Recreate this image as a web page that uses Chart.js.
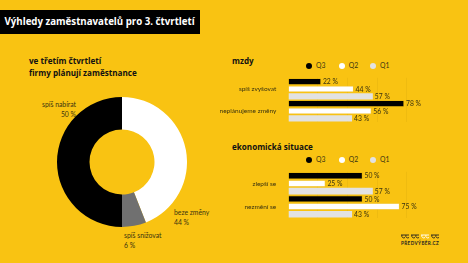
<!DOCTYPE html>
<html>
<head>
<meta charset="utf-8">
<script src="https://cdn.jsdelivr.net/npm/chart.js@4.4.1/dist/chart.umd.min.js"></script>
<style>
  html,body{margin:0;padding:0;}
  body{width:468px;height:263px;background:#F9C312;position:relative;overflow:hidden;font-family:"Lato","Open Sans",sans-serif;color:#2a2a2a;}
  .abs{position:absolute;white-space:nowrap;}
  #titlebox{left:0;top:10px;width:200px;height:24px;background:#000;}
  #title{left:4.5px;top:10px;height:24px;line-height:24px;color:#fff;font-weight:700;font-size:9.7px;font-family:"Open Sans",sans-serif;}
  .h{font-weight:700;font-size:8.1px;color:#111;font-family:"Open Sans",sans-serif;}
  .lbl{font-size:6.8px;color:#3a3310;line-height:10px;}
  .leg{font-size:6.8px;color:#3a3310;line-height:8px;}
  .dot{display:inline-block;width:6px;height:6px;border-radius:50%;vertical-align:-1px;margin-right:4px;}
  canvas{position:absolute;}
</style>
</head>
<body>
<div id="titlebox" class="abs"></div>
<div id="title" class="abs">Výhledy zaměstnavatelů pro 3. čtvrtletí</div>

<div class="abs h" style="left:29px;top:55.3px;">ve třetím čtvrtletí</div>
<div class="abs h" style="left:29px;top:66.8px;">firmy plánují zaměstnance</div>

<div class="abs lbl" style="right:392px;top:99px;text-align:right;">spíš nabírat<br>50 %</div>
<div class="abs lbl" style="left:174px;top:207px;">beze změny<br>44 %</div>
<div class="abs lbl" style="left:124px;top:230px;">spíš snižovat<br>6 %</div>

<div class="abs h" style="left:232px;top:55.3px;">mzdy</div>
<div class="abs h" style="left:232px;top:140.8px;">ekonomická situace</div>

<div class="abs leg" style="left:306px;top:60.5px;"><span class="dot" style="background:#000"></span>Q3</div>
<div class="abs leg" style="left:338.7px;top:60.5px;"><span class="dot" style="background:#fff"></span>Q2</div>
<div class="abs leg" style="left:370px;top:60.5px;"><span class="dot" style="background:#e2e2e2"></span>Q1</div>

<div class="abs leg" style="left:306px;top:155px;"><span class="dot" style="background:#000"></span>Q3</div>
<div class="abs leg" style="left:338.7px;top:155px;"><span class="dot" style="background:#fff"></span>Q2</div>
<div class="abs leg" style="left:370px;top:155px;"><span class="dot" style="background:#e2e2e2"></span>Q1</div>

<svg class="abs" style="left:400px;top:233px;" width="40" height="6" viewBox="0 0 40 6">
  <g fill="none" stroke="#222" stroke-width="0.9">
    <path d="M1 2 h8 M2 2 a2 2 0 0 0 3 2.5 M6 2 a2 2 0 0 0 3 2.5"/>
    <path d="M11 2 h8 M12 2 a2 2 0 0 0 3 2.5 M16 2 a2 2 0 0 0 3 2.5"/>
    <path d="M21 2 h8 M22 2 a2 2 0 0 0 3 2.5 M26 2 a2 2 0 0 0 3 2.5" stroke="#fff"/>
    <path d="M31 2 h8 M32 2 a2 2 0 0 0 3 2.5 M36 2 a2 2 0 0 0 3 2.5"/>
  </g>
</svg>
<div class="abs" style="left:401px;top:240px;font-size:4.6px;font-weight:700;letter-spacing:0.4px;color:#222;">PŘEDVÝBĚR.CZ</div>

<canvas id="donut" style="left:57.3px;top:97px;" width="130" height="130"></canvas>
<canvas id="bar1" style="left:220px;top:70px;" width="248" height="60"></canvas>
<canvas id="bar2" style="left:220px;top:164px;" width="248" height="62"></canvas>

<script>
// ---- data ----
const donutLabels = ["beze změny", "spíš snižovat", "spíš nabírat"];
const donutValues = [44, 6, 50];

const seriesNames = ["Q3", "Q2", "Q1"];
const wageCategories = ["spíš zvyšovat", "neplánujeme změny"];
const wageQ3 = [22, 78];
const wageQ2 = [44, 56];
const wageQ1 = [57, 43];

const econCategories = ["zlepší se", "nezmění se"];
const econQ3 = [50, 50];
const econQ2 = [25, 75];
const econQ1 = [57, 43];

const xTicks = [0, 20, 40, 60, 80, 100];

// ---- styling ----
const seriesColors = ["#000000", "#ffffff", "#e2e2e2"];
const labelColor = "#3a3310";
const fontFam = "Lato, 'Open Sans', sans-serif";

Chart.defaults.font.family = fontFam;
Chart.defaults.animation = false;

new Chart(document.getElementById("donut"), {
  type: "doughnut",
  data: {
    labels: donutLabels,
    datasets: [{ data: donutValues, backgroundColor: ["#ffffff", "#707070", "#000000"], borderWidth: 0 }]
  },
  options: {
    responsive: false,
    cutout: "50%",
    layout: { padding: 0 },
    plugins: { legend: { display: false }, tooltip: { enabled: false } }
  }
});

const valueLabels = {
  id: "valueLabels",
  afterDatasetsDraw(chart) {
    const ctx = chart.ctx;
    ctx.save();
    ctx.font = "6.8px " + fontFam;
    ctx.fillStyle = labelColor;
    ctx.textBaseline = "middle";
    ctx.textAlign = "left";
    chart.data.datasets.forEach((ds, i) => {
      chart.getDatasetMeta(i).data.forEach((bar, j) => {
        ctx.fillText(ds.data[j] + " %", bar.x + 2, bar.y + 0.5);
      });
    });
    ctx.restore();
  }
};

function barChart(id, cats, q3, q2, q1, pad) {
  return new Chart(document.getElementById(id), {
    type: "bar",
    data: {
      labels: cats,
      datasets: [
        { label: seriesNames[0], data: q3, backgroundColor: seriesColors[0], borderColor: "#c9a00c", borderWidth: 0.6 },
        { label: seriesNames[1], data: q2, backgroundColor: seriesColors[1], borderColor: "#e8c24a", borderWidth: 0.6 },
        { label: seriesNames[2], data: q1, backgroundColor: seriesColors[2], borderWidth: 0 }
      ]
    },
    options: {
      responsive: false,
      indexAxis: "y",
      layout: { padding: pad },
      datasets: { bar: { barPercentage: 0.86, categoryPercentage: 1 } },
      scales: {
        x: {
          min: xTicks[0], max: xTicks[xTicks.length - 1],
          afterBuildTicks(s) { s.ticks = xTicks.map(v => ({ value: v })); },
          afterFit(s) { s.height = 0; },
          ticks: { display: false },
          border: { display: false },
          grid: { drawTicks: false, color: (c) => (c.tick && c.tick.value > 0 && c.tick.value < 100 ? "rgba(120,90,0,0.13)" : "rgba(0,0,0,0)"), lineWidth: 0.6 }
        },
        y: {
          afterFit(s) { s.width = 68.3; },
          border: { display: false },
          grid: { display: false },
          ticks: { color: labelColor, font: { size: 6.5 }, padding: 4 }
        }
      },
      plugins: { legend: { display: false }, tooltip: { enabled: false } }
    },
    plugins: [valueLabels]
  });
}

barChart("bar1", wageCategories, wageQ3, wageQ2, wageQ1, { top: 5.4, bottom: 6.2, right: 31.4, left: 0 });
barChart("bar2", econCategories, econQ3, econQ2, econQ1, { top: 5.8, bottom: 5.4, right: 31.4, left: 0 });
</script>
</body>
</html>
